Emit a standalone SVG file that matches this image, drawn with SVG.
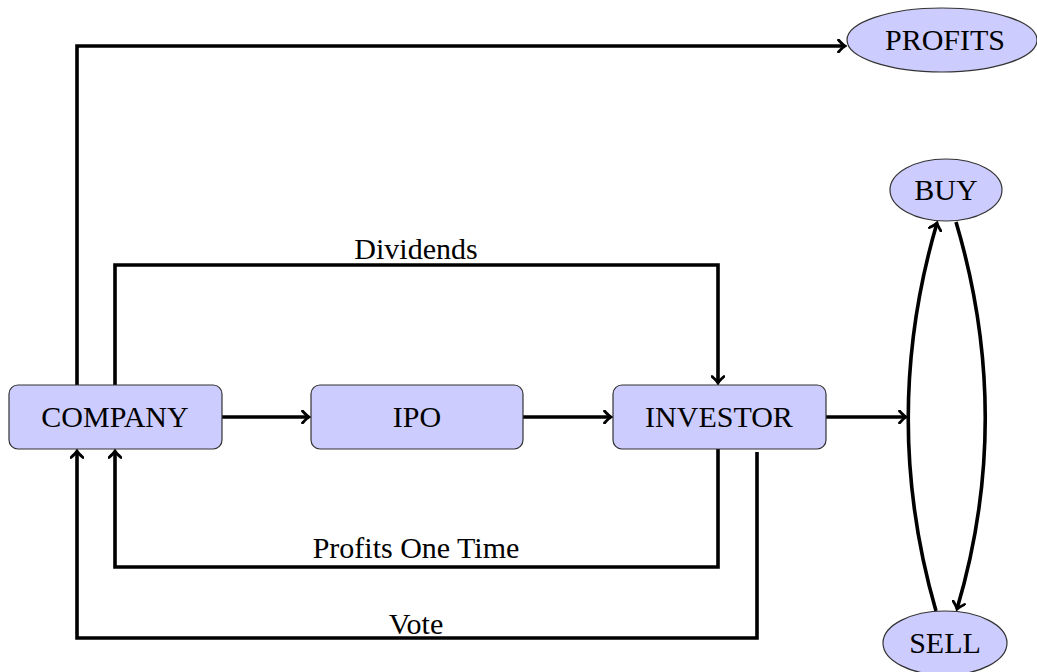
<svg xmlns="http://www.w3.org/2000/svg" width="1037" height="672" viewBox="0 0 1037 672">
  <defs>
    <marker id="arrow" viewBox="-8 -7 10 14" markerWidth="10" markerHeight="14" refX="0" refY="0" orient="auto" markerUnits="userSpaceOnUse">
      <path d="M-6.5,-6 Q-2,-1 0,0 Q-2,1 -6.5,6" fill="none" stroke="#000" stroke-width="2.8" stroke-linecap="round"/>
    </marker>
  </defs>
  <style>
    .box { fill: #ccccff; stroke: #333; stroke-width: 1.2; }
    .lbl { font-family: "Liberation Serif", "Times New Roman", serif; font-size: 30px; fill: #000; text-anchor: middle; }
    .edge { fill: none; stroke: #000; stroke-width: 3.6; stroke-linejoin: miter; }
  </style>
  <rect width="1037" height="672" fill="#fff"/>

  <g id="connectors">
    <path class="edge" d="M77,385 V46 H845" marker-end="url(#arrow)"/>
    <path class="edge" d="M115,385 V265 H718 V383" marker-end="url(#arrow)"/>
    <path class="edge" d="M222,417 H309" marker-end="url(#arrow)"/>
    <path class="edge" d="M523,417 H611" marker-end="url(#arrow)"/>
    <path class="edge" d="M826,417 H906" marker-end="url(#arrow)"/>
    <path class="edge" d="M718,449 V567 H115 V451" marker-end="url(#arrow)"/>
    <path class="edge" d="M757,452 V638 H77 V451" marker-end="url(#arrow)"/>
    <path class="edge" d="M936,611 Q880,417 937,223" marker-end="url(#arrow)"/>
    <path class="edge" d="M956,222 Q1014,417 957,609" marker-end="url(#arrow)"/>
    <text class="lbl" x="416" y="259">Dividends</text>
    <text class="lbl" x="416" y="558">Profits One Time</text>
    <text class="lbl" x="416" y="634">Vote</text>
  </g>

  <g id="company">
    <rect class="box" x="9" y="385" width="213" height="64" rx="9"/>
    <text class="lbl" x="115" y="427">COMPANY</text>
  </g>
  <g id="ipo">
    <rect class="box" x="311" y="385" width="212" height="64" rx="9"/>
    <text class="lbl" x="417" y="427">IPO</text>
  </g>
  <g id="investor">
    <rect class="box" x="613" y="385" width="213" height="64" rx="9"/>
    <text class="lbl" x="719" y="427">INVESTOR</text>
  </g>
  <g id="profits">
    <ellipse class="box" cx="942" cy="40" rx="95" ry="32"/>
    <text class="lbl" x="945" y="50">PROFITS</text>
  </g>
  <g id="buy">
    <ellipse class="box" cx="946" cy="190" rx="56" ry="31"/>
    <text class="lbl" x="946" y="200">BUY</text>
  </g>
  <g id="sell">
    <ellipse class="box" cx="945" cy="643" rx="62" ry="32"/>
    <text class="lbl" x="945" y="653">SELL</text>
  </g>
</svg>
